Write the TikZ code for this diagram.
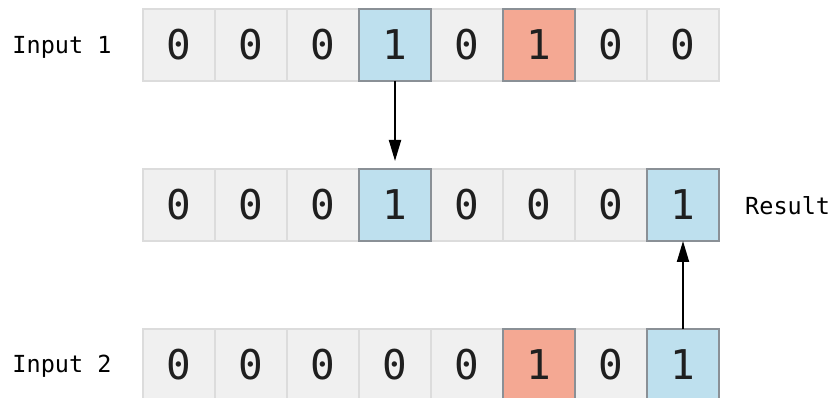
\documentclass[tikz,border=0pt]{standalone}
\usepackage{fontspec}
\setmonofont{DejaVu Sans Mono}
\usetikzlibrary{arrows.meta}
\definecolor{cellgray}{HTML}{F0F0F0}
\definecolor{cellborder}{HTML}{DCDCDC}
\definecolor{hlblue}{HTML}{BEE0EE}
\definecolor{hlred}{HTML}{F4A893}
\definecolor{hlborder}{HTML}{8A9096}
\begin{document}
\begin{tikzpicture}[x=1pt,y=-1pt,
  cell/.style={draw=cellborder, fill=cellgray, line width=1.5pt, minimum size=72pt,
    inner sep=0pt, outer sep=0pt, anchor=north west, text=black!88,
    font=\ttfamily\fontsize{41}{41}\selectfont},
  plaincell/.style={},
  bluecell/.style={fill=hlblue},
  redcell/.style={fill=hlred},
  hlframe/.style={draw=hlborder, line width=1.5pt},
  lbl/.style={font=\ttfamily\fontsize{23.5}{23.5}\selectfont, inner sep=0pt},
  arr/.style={line width=2pt, -{Triangle[length=21pt,width=12pt]}}]
\useasboundingbox (0,0) rectangle (833,398);
\foreach \v/\s [count=\i] in {0/plaincell,0/plaincell,0/plaincell,1/bluecell,0/plaincell,1/redcell,0/plaincell,0/plaincell}
  \node[cell,\s] (a\i) at ({143+72*(\i-1)},9) {\v};
\foreach \v/\s [count=\i] in {0/plaincell,0/plaincell,0/plaincell,1/bluecell,0/plaincell,0/plaincell,0/plaincell,1/bluecell}
  \node[cell,\s] (b\i) at ({143+72*(\i-1)},169) {\v};
\foreach \v/\s [count=\i] in {0/plaincell,0/plaincell,0/plaincell,0/plaincell,0/plaincell,1/redcell,0/plaincell,1/bluecell}
  \node[cell,\s] (c\i) at ({143+72*(\i-1)},329) {\v};
\foreach \n in {a4,a6,b4,b8,c6,c8}
  \draw[hlframe] (\n.north west) rectangle (\n.south east);
\node[lbl] (l1) at (62,47) {Input 1};
\node[lbl, anchor=west] (l2) at (745,206) {Result};
\node[lbl] (l3) at (62,366) {Input 2};
\draw[arr, shorten >=8pt] (a4.south) -- (b4.north);
\draw[arr] (c8.north) -- (b8.south);
\end{tikzpicture}
\end{document}
